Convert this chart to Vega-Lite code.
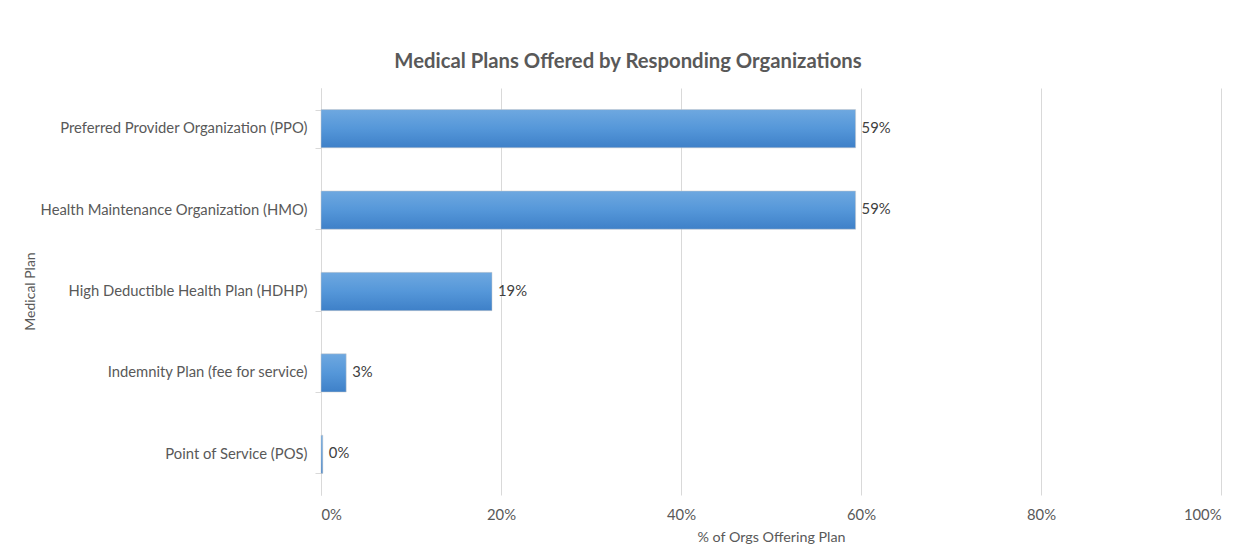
{
  "$schema": "https://vega.github.io/schema/vega-lite/v6.json",
  "autosize": {"type": "none"},
  "width": 900,
  "height": 407,
  "padding": {"left": 321, "top": 88, "right": 26, "bottom": 59},
  "background": "white",
  "title": {
    "text": "Medical Plans Offered by Responding Organizations",
    "frame": "bounds",
    "anchor": "middle",
    "font": "Lato",
    "fontSize": 20.3,
    "fontWeight": "bold",
    "color": "#595959",
    "offset": 8,
    "dx": 6
  },
  "config": {
    "view": {"stroke": null},
    "font": "Lato"
  },
  "data": {
    "values": [
      {"plan": "Preferred Provider Organization (PPO)", "pct": 0.594},
      {"plan": "Health Maintenance Organization (HMO)", "pct": 0.594},
      {"plan": "High Deductible Health Plan (HDHP)", "pct": 0.19},
      {"plan": "Indemnity Plan (fee for service)", "pct": 0.028},
      {"plan": "Point of Service (POS)", "pct": 0.002}
    ]
  },
  "encoding": {
    "y": {
      "field": "plan",
      "type": "nominal",
      "sort": null,
      "scale": {"paddingInner": 0.53, "paddingOuter": 0.265},
      "axis": {
        "title": "Medical Plan",
        "titleFont": "Lato",
        "titleFontSize": 14,
        "titleFontWeight": "normal",
        "titleColor": "#595959",
        "titleX": -291,
        "titleY": 203,
        "titleAngle": -90,
        "titleAlign": "center",
        "titleBaseline": "middle",
        "labelFont": "Lato",
        "labelFontSize": 14.8,
        "labelColor": "#595959",
        "labelPadding": 8,
        "tickBand": "extent",
        "tickSize": 6,
        "tickColor": "#d9d9d9",
        "domainColor": "#d9d9d9",
        "grid": false,
        "labelLimit": 400
      }
    },
    "x": {
      "field": "pct",
      "type": "quantitative",
      "scale": {"domain": [0, 1]},
      "axis": {
        "title": "% of Orgs Offering  Plan",
        "titleFont": "Lato",
        "titleFontSize": 14.3,
        "titleFontWeight": "normal",
        "titleColor": "#595959",
        "titlePadding": 9,
        "format": ".0%",
        "values": [0, 0.2, 0.4, 0.6, 0.8, 1],
        "labelFont": "Lato",
        "labelFontSize": 14.8,
        "labelColor": "#595959",
        "labelPadding": 12,
        "ticks": false,
        "domain": false,
        "grid": true,
        "gridColor": "#d9d9d9"
      }
    }
  },
  "layer": [
    {
      "mark": {
        "type": "bar",
        "color": {
          "gradient": "linear",
          "x1": 0, "y1": 0, "x2": 0, "y2": 1,
          "stops": [
            {"offset": 0, "color": "#6ea8e0"},
            {"offset": 0.5, "color": "#5597d9"},
            {"offset": 1, "color": "#3e80c8"}
          ]
        },
        "stroke": "#c9c9c9",
        "strokeWidth": 0.5
      }
    },
    {
      "mark": {
        "type": "text",
        "align": "left",
        "baseline": "middle",
        "dx": 6,
        "font": "Lato",
        "fontSize": 14.8,
        "color": "#404040"
      },
      "encoding": {
        "text": {"field": "pct", "type": "quantitative", "format": ".0%"}
      }
    }
  ]
}
